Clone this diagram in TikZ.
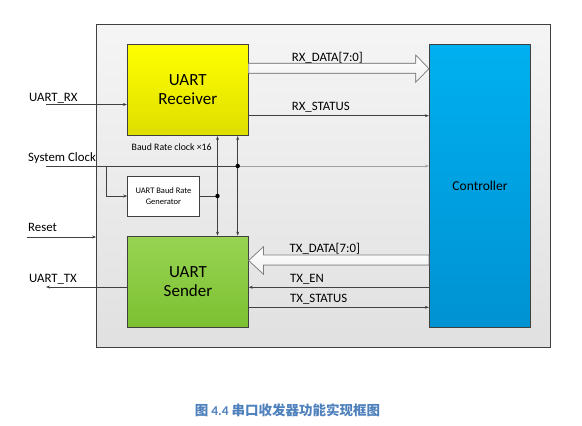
\documentclass[tikz,border=0pt]{standalone}
\usepackage{fontspec}
\setmainfont{Carlito}
\newfontfamily\cjkfont{Noto Sans CJK SC}
\usepackage{tikz}
\usetikzlibrary{calc,positioning,arrows.meta}

\definecolor{linegray}{HTML}{404040}
\definecolor{lightline}{HTML}{A0A0A0}
\definecolor{capblue}{HTML}{4F81BD}

\begin{document}
\begin{tikzpicture}[x=1pt, y=-1pt, font=\fontsize{10}{12}\selectfont]
\tikzstyle{block}=[draw=linegray, line width=0.8pt, inner sep=0pt,
                   align=center, font=\fontsize{17}{19}\selectfont]
\tikzstyle{sig}=[draw=linegray, line width=0.7pt, -{Stealth[length=4pt,width=3pt]}]
\tikzstyle{fat}=[draw=gray, line width=0.7pt, top color=white, bottom color=black!6]
\tikzstyle{lbl}=[inner sep=0pt, anchor=base west, font=\fontsize{12.8}{14}\selectfont]
\useasboundingbox (0,0) rectangle (582,426);

% outer frame
\node (frame) [draw=linegray, line width=0.8pt, top color=black!4, bottom color=black!12,
      minimum width=454.2pt, minimum height=322.7pt, inner sep=0pt] at (323.6,185.7) {};

\node (rx) [block, top color={rgb,255:red,255;green,255;blue,0}, bottom color={rgb,255:red,222;green,222;blue,0},
      minimum width=121pt, minimum height=91.4pt] at (187.8,90) {UART\\Receiver};
\node (tx) [block, top color={rgb,255:red,152;green,212;blue,82}, bottom color={rgb,255:red,124;green,192;blue,50},
      minimum width=120.6pt, minimum height=91.3pt] at (188,281.7) {UART\\Sender};
\node (ctrl) [block, top color={rgb,255:red,0;green,176;blue,240}, bottom color={rgb,255:red,0;green,146;blue,210},
      minimum width=101.4pt, minimum height=283pt, font=\fontsize{13.5}{15}\selectfont] at (480,185.8) {Controller};
\node (baud) [block, fill=white, minimum width=71.6pt, minimum height=39.3pt,
      font=\fontsize{8.5}{10.5}\selectfont] at (163.5,196.3) {UART Baud Rate\\Generator};

% free ends and junctions
\coordinate (rxin) at (46,104.5);
\coordinate (clkin) at (46,166);
\coordinate (rstin) at (27,237);
\coordinate (txout) at (46,287);
\coordinate (clkbr) at (106.7,166);
\coordinate (bdot) at (217.5,196);
\coordinate (cdot) at (237.7,166);

% fat data arrows
\filldraw[fat] (rx.east|-0,63.3) -- (415.7,63.3) -- (415.7,55) -- (ctrl.west|-0,68.7)
   -- (415.7,82.3) -- (415.7,73.3) -- (rx.east|-0,73.3) -- cycle;
\filldraw[fat] (ctrl.west|-0,255) -- (263.5,255) -- (263.5,246.7) -- (tx.east|-0,260.5)
   -- (263.5,274.3) -- (263.5,265) -- (ctrl.west|-0,265) -- cycle;

% control lines
\draw[sig] (rx.east|-0,115.7) -- (ctrl.west|-0,115.7);
\draw[sig] (ctrl.west|-0,287.3) -- (tx.east|-0,287.3);
\draw[sig] (tx.east|-0,307.3) -- (ctrl.west|-0,307.3);
\draw[sig] (rxin) -- (rx.west|-rxin);
\draw[sig] (rstin) -- (frame.west|-rstin);
\draw[sig] (tx.west|-txout) -- (txout);
\draw[draw=linegray, line width=0.7pt] (clkin) -- (cdot);
\draw[sig, draw=lightline] (cdot) -- (ctrl.west|-cdot);
\draw[sig] (clkbr) |- (baud.west|-bdot);
\draw[draw=linegray, line width=0.7pt] (baud.east|-bdot) -- (bdot);
\foreach \p in {bdot,cdot}{
  \draw[sig] (\p) -- (rx.south-|\p);
  \draw[sig] (\p) -- (tx.north-|\p);
  \fill[black] (\p) circle (2.2pt);
}

% labels
\node (lrxd) [lbl] at (291.7,61) {RX\_DATA[7:0]};
\node (lrxs) [lbl] at (291.7,110.5) {RX\_STATUS};
\node (ltxd) [lbl] at (289.5,252) {TX\_DATA[7:0]};
\node (ltxe) [lbl] at (290,282) {TX\_EN};
\node (ltxs) [lbl] at (290,302) {TX\_STATUS};
\node (lrxin) [lbl] at (29,101) {UART\_RX};
\node (lclk) [lbl] at (28,161) {System Clock};
\node (lrst) [lbl] at (28,231.5) {Reset};
\node (ltxo) [lbl] at (29,282) {UART\_TX};
\node (lbaud) [lbl, font=\fontsize{9.8}{11}\selectfont] at (131.5,150) {Baud Rate clock ×16};

% caption
\node (cap) [inner sep=0pt, text=capblue, font=\fontsize{13.5}{15}\selectfont\bfseries] at (287.5,410)
   {{\cjkfont 图} 4.4 {\cjkfont 串口收发器功能实现框图}};
\end{tikzpicture}
\end{document}
